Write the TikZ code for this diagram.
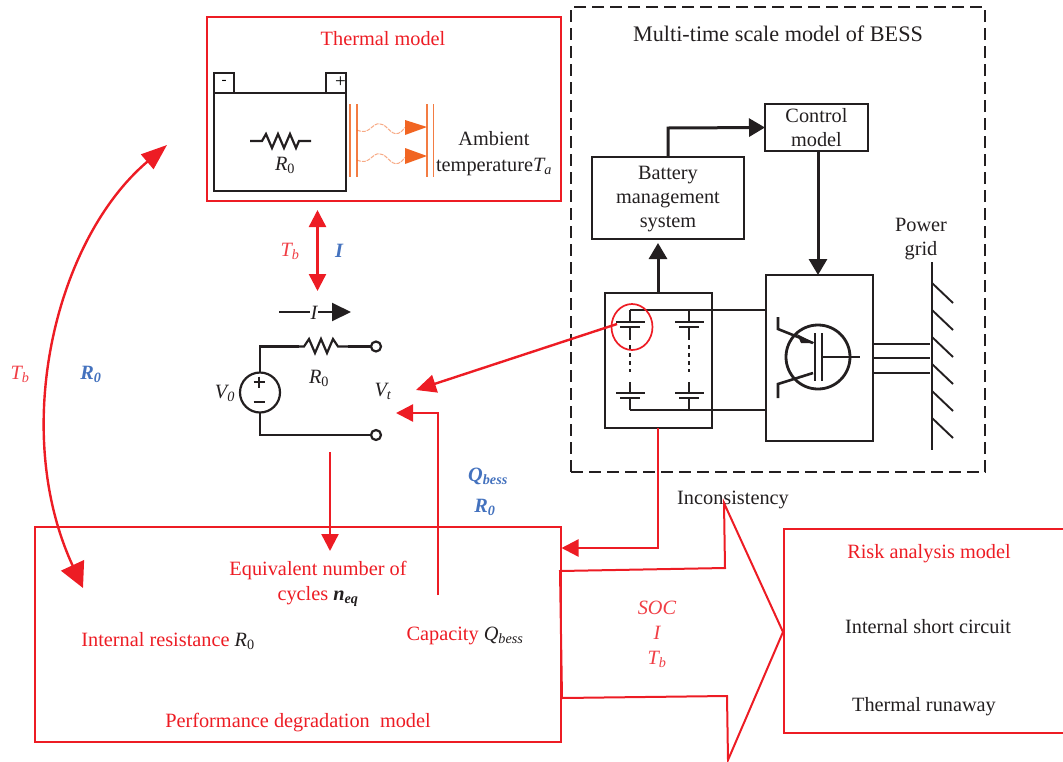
\documentclass[tikz,border=0pt]{standalone}
\usepackage{fontspec}
\setmainfont{Liberation Serif}
\usetikzlibrary{arrows.meta,shapes.geometric}
\definecolor{rd}{RGB}{237,28,36}
\definecolor{bl}{RGB}{68,114,190}
\definecolor{blk}{RGB}{35,31,32}
\definecolor{org}{RGB}{241,101,34}
\newcommand{\lbl}{\fontsize{20.3}{24}\selectfont}
\tikzset{
 x=1pt,y=-1pt,
 txt/.style={font=\lbl,text=blk,align=center,inner sep=0pt},
 rtxt/.style={txt,text=rd},
 itxt/.style={txt,font=\lbl\itshape},
 ritxt/.style={txt,text=rd!85,font=\lbl\itshape},
 btxt/.style={txt,text=bl,font=\lbl\bfseries\itshape},
 rbox/.style={draw=rd,line width=2pt,outer sep=0pt,anchor=north west,inner sep=0pt},
 kbox/.style={draw=blk,line width=2pt,outer sep=0pt,anchor=north west,inner sep=0pt},
 wire/.style={draw=blk,line width=2.6pt},
 thinw/.style={draw=blk,line width=1.9pt},
 rline/.style={draw=rd,line width=2.4pt},
 rarrow/.style={rline,-{Triangle[length=17pt,width=17pt]}},
 rdouble/.style={rline,{Triangle[length=17pt,width=17pt]}-{Triangle[length=17pt,width=17pt]}},
 rcurve/.style={rline,{Triangle[length=26pt,width=19pt]}-{Triangle[length=25pt,width=25pt]}},
 karrow/.style={draw=blk,line width=3pt,-{Triangle[length=16pt,width=18pt]}},
 heat/.style={draw=org,line width=1pt,opacity=.55,dash pattern=on 4pt off 1pt},
 heatbar/.style={draw=org,line width=1.4pt,opacity=.85},
 res/.style={draw=blk,line width=2.2pt,line join=miter},
 term/.style={circle,draw=blk,line width=2.2pt,fill=white,minimum size=10pt,inner sep=0pt,outer sep=0pt},
}
\begin{document}
\begin{tikzpicture}
\useasboundingbox (0,0) rectangle (1063,761);
% Thermal model
\node[rbox,minimum width=354.5pt,minimum height=184pt] (thermal) at (206.5,17) {};
\node[rtxt] (tt) at (383,39) {Thermal model};
\node[kbox,minimum width=132pt,minimum height=98.5pt] (batt) at (214,92.5) {};
\node[kbox,minimum width=20pt,minimum height=20pt,font=\fontsize{15}{15}\selectfont] (minus) at (214,72.5) {-};
\node[kbox,minimum width=20pt,minimum height=20pt,font=\fontsize{19}{19}\selectfont] (plus) at (326,72.5) {\raisebox{-3pt}{\hspace{9pt}+}};
\draw[res] (250,141)--(262,141)--(266,134)--(272,148)--(278,134)--(284,148)--(290,134)--(296,148)--(299,141)--(311,141);
\node[itxt] (r1) at (285,165) {R\textsubscript{\normalfont 0}};
\foreach \x in {350,357,427,433.5}{\draw[heatbar] (\x,104)--(\x,177);}
\draw[heat] (357,130) .. controls (370,136) and (372,122) .. (380,124) .. controls (388,124) and (392,140) .. (402,131) .. controls (408,124) and (408,124) .. (412,126);
\draw[heat] (357,160) .. controls (370,166) and (372,152) .. (380,154) .. controls (388,154) and (392,170) .. (402,161) .. controls (408,154) and (408,154) .. (412,156);
\fill[org] (405,120)--(427,127)--(405,135)--cycle;
\fill[org] (405,148)--(427,156)--(405,164)--cycle;
\node[txt] (amb) at (494,154) {Ambient\\[2pt]temperature\textit{T\textsubscript{a}}};
% BESS
\node[draw=blk,line width=1.9pt,dash pattern=on 12pt off 6pt,minimum width=414pt,minimum height=465pt,anchor=north west,inner sep=0pt,outer sep=0pt] (bess) at (571,7) {};
\node[txt,font=\fontsize{22.2}{26}\selectfont] (bt) at (778,33.5) {Multi-time scale model of BESS};
\node[kbox,minimum width=152pt,minimum height=82pt] (bms) at (592,157) {};
\node[txt] (bmsl) at (668,199.5) {Battery\\management\\system};
\node[kbox,minimum width=103pt,minimum height=47pt,txt,anchor=north west] (ctrl) at (765,104) {Control\\model};
\node[kbox,minimum width=107pt,minimum height=135pt] (pack) at (605,293) {};
\node[kbox,minimum width=107pt,minimum height=166pt] (conv) at (766,275) {};
\draw[karrow] (668,157)--(668,128)--(ctrl.west);
\draw[karrow] (818,151)--(818,275);
\draw[karrow] (658,293)--(658,243);
% pack internals
\draw[wire] (630,310)--(766,310);
\draw[wire] (630,410)--(766,410);
\draw[thinw] (630,310)--(630,322) (689,310)--(689,322);
\draw[wire] (616,322)--(645,322) (675,322)--(704,322);
\draw[wire] (620,327)--(640,327) (679,327)--(699,327);
\draw[thinw] (630,327)--(630,340) (689,327)--(689,340);
\draw[wire,dash pattern=on 4pt off 4pt] (630,345)--(630,372) (689,345)--(689,372);
\draw[thinw] (630,382)--(630,393) (689,382)--(689,393);
\draw[wire] (616,393)--(645,393) (675,393)--(704,393);
\draw[wire] (620,398)--(640,398) (679,398)--(699,398);
\draw[thinw] (630,398)--(630,410) (689,398)--(689,410);
\node[draw=rd,line width=1.7pt,ellipse,minimum width=41pt,minimum height=46pt,inner sep=0pt,outer sep=0pt] (cell) at (632,327) {};
% transistor
\draw[line width=2.8pt,draw=blk] (818,357) circle (32pt);
\draw[wire] (778,317)--(778,329)--(813,343);
\draw[wire] (778,398)--(778,384)--(813,373);
\draw[wire] (815,333)--(815,381) (822,333)--(822,381);
\draw[wire] (822,357)--(860,357);
\fill[blk] (797,334)--(815,343)--(801,343)--cycle;
\draw[wire] (873,344)--(930,344) (873,358)--(930,358) (873,373)--(930,373);
% grid
\node[txt] (grid) at (921,239) {Power\\grid};
\draw[wire] (932,262)--(932,450);
\foreach \y in {283,310,337,364,391,418}{\draw[thinw] (932,\y)--(953,\y+20);}
% circuit
\draw[rdouble] (317.5,210)--(317.5,291);
\node[ritxt] (tb1) at (290,251) {T\textsubscript{b}};
\node[btxt] (i1) at (339,251) {I};
\draw[line width=2pt,draw=blk,-{Triangle[length=19pt,width=18pt]}] (279,312)--(351,312);
\node[itxt,fill=white,inner xsep=1pt] (i2) at (314,313) {I};
\node[term] (t1) at (376,346.5) {};
\node[term] (t2) at (376,435) {};
\node[circle,draw=blk,line width=2.2pt,minimum size=40pt,inner sep=0pt,outer sep=0pt] (v0) at (260,392.5) {};
\draw[wire] (v0.north)--(260,346.5)--(299,346.5);
\draw[res] (299,346.5)--(304,346.5)--(309,339)--(315,353)--(321,339)--(327,353)--(333,339)--(338,346.5)--(348,346.5);
\draw[wire] (348,346.5)--(t1.west);
\draw[wire] (v0.south)--(260,435)--(t2.west);
\draw[line width=2.4pt,draw=blk] (253.5,382)--(265,382) (259.2,376.5)--(259.2,387.5) (253.5,402)--(265,402);
\node[itxt] (v0l) at (225,393) {V\textsubscript{0}};
\node[itxt] (r2) at (319,378) {R\textsubscript{\normalfont 0}};
\node[itxt] (vt) at (383,391) {V\textsubscript{t}};
% red connectors
\coordinate (ca) at (416,390);
\coordinate (cellin) at (617,324);
\draw[rarrow,-{Triangle[length=20pt,width=18pt]}] (cellin)--(ca);
\coordinate (cb) at (396,413);
\coordinate (cc) at (438,595);
\draw[rarrow] (cc)--(438,413)--(cb);
\coordinate (cd) at (330,452);
\coordinate (ce) at (330,551);
\draw[rarrow] (cd)--(ce);
% degradation
\node[rbox,minimum width=526pt,minimum height=215pt] (deg) at (35,527) {};
\draw[rarrow] (658,428)--(658,548)--(561.5,548);
\node[btxt] (q) at (488,476) {Q\textsubscript{bess}};
\node[btxt] (r3) at (485,507) {R\textsubscript{0}};
\node[txt] (inc) at (733,500) {Inconsistency};
\node[rtxt] (eq) at (318,583.5) {Equivalent number of\\[1pt]cycles {\color{blk}\bfseries\itshape n\textsubscript{eq}}};
\node[rtxt] (cap) at (465,636) {Capacity {\color{blk}\itshape Q\textsubscript{bess}}};
\node[rtxt] (ir) at (168,641) {Internal resistance {\color{blk}\itshape R\textsubscript{\normalfont 0}}};
\node[rtxt] (pd) at (298,723) {Performance degradation\ \ model};
% long double arrow
\draw[rcurve] (167,145) .. controls (55,240) and (10,430) .. (83,588);
\node[ritxt] (tb2) at (20,374) {T\textsubscript{b}};
\node[btxt] (r4) at (91,374) {R\textsubscript{0}};
% big arrow
\draw[rline,line width=2pt,line join=miter] (560,571)--(725,568)--(724,503)--(783,632)--(728,760)--(727,696)--(562,698)--cycle;
\node[ritxt] (soc) at (657,634) {SOC\\[1pt]I\\[1pt]T\textsubscript{b}};
% risk
\node[rbox,minimum width=280pt,minimum height=204pt] (risk) at (784,529) {};
\node[rtxt] (rt) at (929,553.5) {Risk analysis model};
\node[txt] (isc) at (928,626.5) {Internal short circuit};
\node[txt] (tr) at (924,706.5) {Thermal runaway};
\end{tikzpicture}
\end{document}
